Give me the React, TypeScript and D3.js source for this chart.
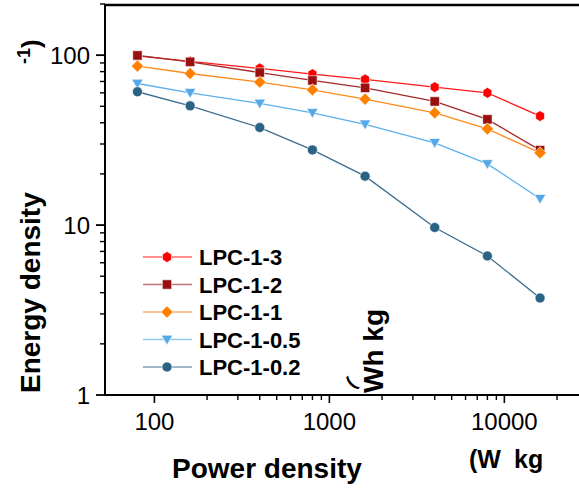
import React from 'react';
import * as d3 from 'd3';

const powerDensity = [80, 160, 400, 800, 1600, 4000, 8000, 16000];
const seriesNames = ['LPC-1-3', 'LPC-1-2', 'LPC-1-1', 'LPC-1-0.5', 'LPC-1-0.2'];
const lpc13 = [99, 92, 83.5, 77.3, 72, 64.8, 60, 43.8];
const lpc12 = [99.6, 91.3, 79, 71, 64.2, 53.4, 41.9, 27.6];
const lpc11 = [86.2, 78, 69.4, 62.5, 55.1, 45.8, 36.8, 26.6];
const lpc105 = [68.1, 60, 52, 45.8, 39.2, 30.5, 22.9, 14.3];
const lpc102 = [60.9, 50.3, 37.5, 27.7, 19.4, 9.67, 6.58, 3.72];
const xTickValues = [100, 1000, 10000];
const yTickValues = [1, 10, 100];
const xTitle = 'Power density';
const xUnitA = '(W';
const xUnitB = 'kg';
const yTitle = 'Energy density';
const yUnitParen = '(';
const yUnitA = 'Wh kg';
const yUnitB = '-1)';

const seriesValues = [lpc13, lpc12, lpc11, lpc105, lpc102];
const markerColors = ['#FF0000', '#9A1010', '#FF8000', '#56A8E6', '#2B6385'];
const lineColors = ['#FF1A1A', '#A32A2A', '#FF8A1A', '#5CB0EA', '#3A6E8E'];

const hexagon = {
  draw(ctx: any, r: number) {
    for (let i = 0; i < 6; i++) {
      const a = Math.PI / 2 + (i * Math.PI) / 3;
      const px = Math.cos(a) * r * 0.95;
      const py = -Math.sin(a) * r;
      if (i === 0) ctx.moveTo(px, py); else ctx.lineTo(px, py);
    }
    ctx.closePath();
  },
};
const square = {
  draw(ctx: any, r: number) {
    ctx.moveTo(-r, -r); ctx.lineTo(r, -r); ctx.lineTo(r, r); ctx.lineTo(-r, r); ctx.closePath();
  },
};
const diamond = {
  draw(ctx: any, r: number) {
    ctx.moveTo(0, -r); ctx.lineTo(r, 0); ctx.lineTo(0, r); ctx.lineTo(-r, 0); ctx.closePath();
  },
};
const triDown = {
  draw(ctx: any, r: number) {
    ctx.moveTo(-r, -r * 0.75); ctx.lineTo(r, -r * 0.75); ctx.lineTo(0, r * 0.95); ctx.closePath();
  },
};
const circle = {
  draw(ctx: any, r: number) {
    ctx.moveTo(r, 0); ctx.arc(0, 0, r, 0, 2 * Math.PI);
  },
};
const symbolTypes = [hexagon, square, diamond, triDown, circle];
const symbolSizes = [5.4, 4.7, 6.1, 5.7, 5];

const FONT = '"Liberation Sans", Arial, Helvetica, sans-serif';

export default function App() {
  const W = 579, H = 490;
  const left = 105, top = 5, bottom = 395;
  const x = d3.scaleLog().domain([52.2, 28900]).range([left, 585]);
  const y = d3.scaleLog().domain([1, 200]).range([bottom, 4]);

  const xMinor = x.ticks().filter((v) => v > 100 && !xTickValues.includes(v));
  const yMinor = y.ticks().filter((v) => !yTickValues.includes(v));

  const line = d3.line<number>()
    .x((_, i) => x(powerDensity[i]))
    .y((d) => y(d));

  const legendY0 = 257;
  const legendStep = 27.5;

  return (
    <svg width={W} height={H} style={{ position: 'absolute', left: 0, top: 0, background: '#fff' }} fontFamily={FONT}>
      {seriesValues.map((vals, si) => (
        <path key={seriesNames[si]} d={line(vals) || ''} fill="none" stroke={lineColors[si]} strokeWidth={1.3} />
      ))}
      {seriesValues.map((vals, si) => (
        <g key={'m' + seriesNames[si]}>
          {vals.map((v, i) => (
            <path
              key={i}
              transform={`translate(${x(powerDensity[i])},${y(v)})`}
              d={d3.symbol().type(symbolTypes[si] as any).size(symbolSizes[si])() || ''}
              fill={markerColors[si]}
              stroke="#fff"
              strokeWidth={0.6}
            />
          ))}
        </g>
      ))}

      <line x1={left} x2={left} y1={top} y2={bottom + 1} stroke="#000" strokeWidth={2} />
      <line x1={left - 1} x2={W} y1={bottom} y2={bottom} stroke="#000" strokeWidth={2} />
      <line x1={left - 1} x2={W} y1={top} y2={top} stroke="#000" strokeWidth={2.5} />

      {xTickValues.map((v) => (
        <g key={'xt' + v}>
          <line x1={x(v)} x2={x(v)} y1={bottom} y2={bottom + 8} stroke="#000" strokeWidth={1.6} />
          <text x={x(v)} y={430} textAnchor="middle" fontSize={24}>{v}</text>
        </g>
      ))}
      {xMinor.map((v) => (
        <line key={'xm' + v} x1={x(v)} x2={x(v)} y1={bottom} y2={bottom + 5} stroke="#000" strokeWidth={1.4} />
      ))}
      {yTickValues.map((v) => (
        <g key={'yt' + v}>
          <line x1={left - 9} x2={left} y1={y(v)} y2={y(v)} stroke="#000" strokeWidth={1.8} />
          <text x={90} y={y(v) + 8.5} textAnchor="end" fontSize={24}>{v}</text>
        </g>
      ))}
      {yMinor.map((v) => (
        <line key={'ym' + v} x1={left - 5} x2={left} y1={y(v)} y2={y(v)} stroke="#000" strokeWidth={1.4} />
      ))}

      {seriesNames.map((name, si) => {
        const ly = legendY0 + si * legendStep;
        return (
          <g key={'lg' + name}>
            <line x1={143} x2={192} y1={ly} y2={ly} stroke={lineColors[si]} strokeWidth={1.3} opacity={0.65} />
            <path
              transform={`translate(167,${ly})`}
              d={d3.symbol().type(symbolTypes[si] as any).size(symbolSizes[si])() || ''}
              fill={markerColors[si]}
              stroke="#fff"
              strokeWidth={0.6}
            />
            <text x={199} y={ly + 8} fontSize={22} fontWeight="bold">{name}</text>
          </g>
        );
      })}

      <text x={172} y={478} fontSize={28} fontWeight="bold">{xTitle}</text>
      <text x={469} y={468} fontSize={25} fontWeight="bold">{xUnitA}</text>
      <text x={514} y={468} fontSize={25} fontWeight="bold">{xUnitB}</text>
      <text transform="translate(40,393) rotate(-90)" fontSize={28} fontWeight="bold">{yTitle}</text>
      <text transform="translate(383,393) rotate(-90)" fontSize={28} fontWeight="bold">{yUnitA}</text>
      <text transform="translate(353,389) rotate(-45)" fontSize={18} fontWeight="bold">{yUnitParen}</text>
      <text transform="translate(40,64) rotate(-90)" fontWeight="bold">
        <tspan fontSize={18} dy={-10}>{yUnitB.slice(0, 2)}</tspan>
        <tspan fontSize={26} dy={10}>{yUnitB.slice(2)}</tspan>
      </text>
    </svg>
  );
}
